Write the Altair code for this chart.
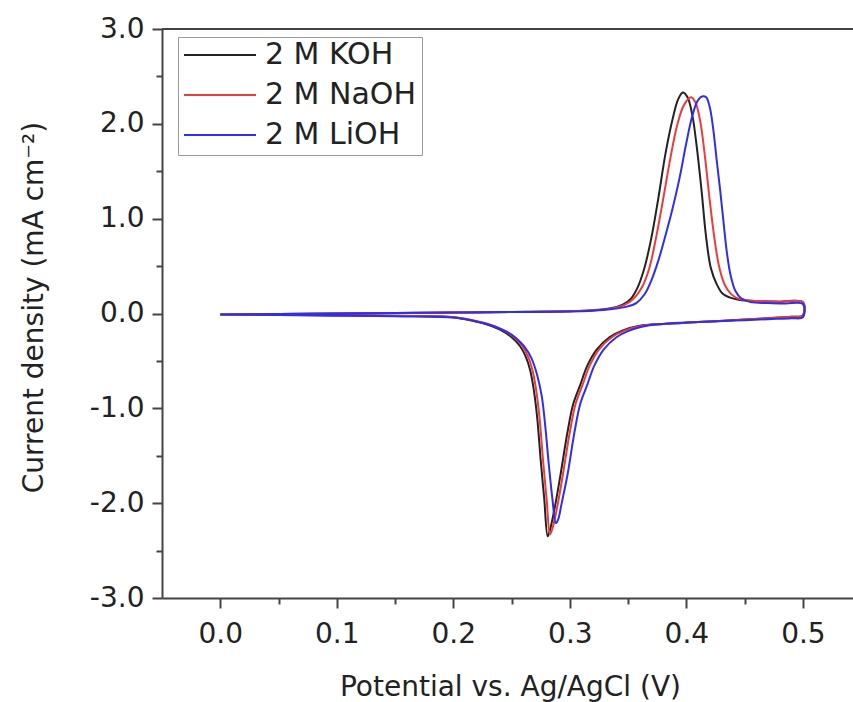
import altair as alt
import pandas as pd

# Cyclic voltammograms in three 2 M hydroxide electrolytes
SERIES = ["2 M KOH", "2 M NaOH", "2 M LiOH"]
COLORS = ["#222222", "#f03a3a", "#2e2ef0"]

# --- 2 M KOH ---
KOH_E_FWD = [0.000, 0.050, 0.100, 0.150, 0.200, 0.250, 0.300, 0.320, 0.335, 0.345,
             0.352, 0.358, 0.364, 0.370, 0.376, 0.382, 0.388, 0.393, 0.397, 0.401,
             0.405, 0.409, 0.413, 0.417, 0.421, 0.426, 0.431, 0.437, 0.445, 0.460,
             0.480, 0.500]
KOH_J_FWD = [-0.01, -0.005, 0.0, 0.005, 0.01, 0.015, 0.025, 0.035, 0.055, 0.09,
             0.15, 0.27, 0.48, 0.80, 1.22, 1.68, 2.04, 2.26, 2.33, 2.28,
             2.10, 1.75, 1.30, 0.80, 0.48, 0.31, 0.21, 0.17, 0.145, 0.13,
             0.125, 0.12]
KOH_E_REV = [0.500, 0.490, 0.470, 0.440, 0.410, 0.380, 0.360, 0.345, 0.334, 0.323,
             0.315, 0.309, 0.303, 0.298, 0.292, 0.287, 0.283, 0.281, 0.278, 0.275,
             0.272, 0.269, 0.266, 0.262, 0.257, 0.250, 0.240, 0.225, 0.200, 0.150,
             0.100, 0.050, 0.000]
KOH_J_REV = [-0.02, -0.035, -0.05, -0.07, -0.09, -0.11, -0.13, -0.18, -0.25, -0.38,
             -0.55, -0.75, -0.95, -1.25, -1.70, -2.05, -2.28, -2.35, -1.95, -1.55,
             -1.10, -0.80, -0.60, -0.45, -0.34, -0.25, -0.17, -0.10, -0.04, -0.025,
             -0.02, -0.015, -0.01]

# --- 2 M NaOH ---
NAOH_E_FWD = [0.000, 0.050, 0.100, 0.150, 0.200, 0.250, 0.300, 0.320, 0.335, 0.347,
              0.355, 0.362, 0.368, 0.374, 0.380, 0.386, 0.392, 0.398, 0.404, 0.408,
              0.412, 0.416, 0.420, 0.424, 0.428, 0.433, 0.438, 0.444, 0.452, 0.465,
              0.480, 0.500]
NAOH_J_FWD = [-0.01, -0.005, 0.0, 0.005, 0.01, 0.015, 0.025, 0.035, 0.05, 0.09,
              0.16, 0.28, 0.47, 0.80, 1.20, 1.62, 1.98, 2.20, 2.28, 2.22,
              2.02, 1.65, 1.20, 0.80, 0.50, 0.30, 0.21, 0.16, 0.14, 0.13,
              0.125, 0.12]
NAOH_E_REV = [0.500, 0.490, 0.470, 0.440, 0.410, 0.380, 0.362, 0.347, 0.336, 0.325,
              0.317, 0.311, 0.305, 0.300, 0.294, 0.289, 0.285, 0.283, 0.280, 0.277,
              0.274, 0.271, 0.268, 0.264, 0.259, 0.252, 0.242, 0.227, 0.202, 0.150,
              0.100, 0.050, 0.000]
NAOH_J_REV = [-0.02, -0.035, -0.05, -0.07, -0.09, -0.11, -0.13, -0.18, -0.25, -0.38,
              -0.55, -0.75, -0.95, -1.25, -1.70, -2.05, -2.27, -2.33, -1.95, -1.55,
              -1.10, -0.80, -0.60, -0.45, -0.34, -0.25, -0.17, -0.10, -0.04, -0.025,
              -0.02, -0.015, -0.01]

# --- 2 M LiOH ---
LIOH_E_FWD = [0.000, 0.050, 0.100, 0.150, 0.200, 0.250, 0.300, 0.320, 0.335, 0.348,
              0.357, 0.364, 0.370, 0.376, 0.382, 0.388, 0.394, 0.400, 0.405, 0.410,
              0.414, 0.417, 0.420, 0.423, 0.426, 0.429, 0.432, 0.435, 0.438, 0.442,
              0.447, 0.455, 0.470, 0.485, 0.500]
LIOH_J_FWD = [-0.01, -0.005, 0.0, 0.005, 0.01, 0.015, 0.02, 0.03, 0.045, 0.07,
              0.11, 0.20, 0.35, 0.56, 0.82, 1.10, 1.42, 1.80, 2.08, 2.25,
              2.29, 2.28, 2.18, 1.95, 1.62, 1.30, 0.95, 0.62, 0.40, 0.24,
              0.16, 0.12, 0.11, 0.105, 0.10]
LIOH_E_REV = [0.500, 0.490, 0.470, 0.440, 0.410, 0.380, 0.366, 0.351, 0.340, 0.329,
              0.321, 0.315, 0.309, 0.304, 0.298, 0.293, 0.290, 0.288, 0.285, 0.282,
              0.279, 0.276, 0.272, 0.267, 0.261, 0.254, 0.244, 0.229, 0.205, 0.150,
              0.100, 0.050, 0.000]
LIOH_J_REV = [-0.04, -0.05, -0.06, -0.075, -0.09, -0.11, -0.13, -0.18, -0.25, -0.38,
              -0.55, -0.75, -0.95, -1.25, -1.70, -2.00, -2.17, -2.21, -1.95, -1.60,
              -1.20, -0.88, -0.65, -0.47, -0.35, -0.26, -0.18, -0.11, -0.05, -0.03,
              -0.02, -0.015, -0.01]

X_TICKS = [0.0, 0.05, 0.1, 0.15, 0.2, 0.25, 0.3, 0.35, 0.4, 0.45, 0.5]
Y_TICKS = [-3.0, -2.5, -2.0, -1.5, -1.0, -0.5, 0.0, 0.5, 1.0, 1.5, 2.0, 2.5, 3.0]
X_DOMAIN = [-0.05, 0.543]
Y_DOMAIN = [-3.0, 3.0]

sweeps = [
    ("2 M KOH", KOH_E_FWD + KOH_E_REV, KOH_J_FWD + KOH_J_REV),
    ("2 M NaOH", NAOH_E_FWD + NAOH_E_REV, NAOH_J_FWD + NAOH_J_REV),
    ("2 M LiOH", LIOH_E_FWD + LIOH_E_REV, LIOH_J_FWD + LIOH_J_REV),
]
rows = []
for name, e_vals, j_vals in sweeps:
    for k, (e, j) in enumerate(zip(e_vals, j_vals)):
        rows.append({"series": name, "E": e, "j": j, "k": k})
df = pd.DataFrame(rows)

W, H = 691, 569
FONT = "DejaVu Sans"
AXIS_COLOR = "#444444"
TEXT_COLOR = "#222222"

major_x = "abs(datum.value * 10 - round(datum.value * 10)) < 0.001"
major_y = "abs(datum.value - round(datum.value)) < 0.001"
signed = "(datum.value < 0 ? '-' : '') + format(abs(datum.value), '.1f')"

x_axis = alt.Axis(
    values=X_TICKS,
    labelExpr=f"{major_x} ? {signed} : ''",
    tickSize={"condition": {"test": major_x, "value": 10}, "value": 6},
    labelPadding=12,
    labelOverlap=False,
    title="Potential vs. Ag/AgCl (V)",
    titleX=348,
    titleY=97,
    titleBaseline="alphabetic",
    titleAlign="center",
)
y_axis = alt.Axis(
    values=Y_TICKS,
    labelExpr=f"{major_y} ? {signed} : ''",
    tickSize={"condition": {"test": major_y, "value": 10}, "value": 6},
    labelPadding=8,
    labelOverlap=False,
    title="Current density (mA cm⁻²)",
    titleAngle=270,
    titleX=-120,
    titleY=278,
    titleBaseline="alphabetic",
    titleAlign="center",
)

curves = alt.Chart(df).mark_line(
    strokeWidth=2, clip=True, interpolate="catmull-rom"
).encode(
    x=alt.X("E:Q", scale=alt.Scale(domain=X_DOMAIN, nice=False, zero=False), axis=x_axis),
    y=alt.Y("j:Q", scale=alt.Scale(domain=Y_DOMAIN, nice=False, zero=False), axis=y_axis),
    color=alt.Color(
        "series:N",
        sort=SERIES,
        scale=alt.Scale(domain=SERIES, range=COLORS),
        legend=alt.Legend(
            title=None,
            orient="none",
            legendX=16,
            legendY=8,
            symbolType="stroke",
            symbolSize=5184,
            symbolStrokeWidth=2,
            labelFont=FONT,
            labelFontSize=30,
            labelColor=TEXT_COLOR,
            labelOffset=8,
            clipHeight=26,
            rowPadding=10,
            padding=5,
            strokeColor="#9a9a9a",
            fillColor="#ffffff",
        ),
    ),
    order=alt.Order("k:Q"),
)

# upper frame line along the top of the plot area
frame_top = alt.Chart(pd.DataFrame({"j": [Y_DOMAIN[1]]})).mark_rule(
    color=AXIS_COLOR, strokeWidth=2
).encode(y=alt.Y("j:Q"), x=alt.value(0), x2=alt.value(W))

chart = (
    alt.layer(frame_top, curves)
    .properties(
        width=W,
        height=H,
        autosize=alt.AutoSizeParams(type="none"),
        padding={"left": 162, "top": 29, "right": 0, "bottom": 104},
        background="#ffffff",
    )
    .configure_view(stroke=None)
    .configure_axis(
        grid=False,
        domainColor=AXIS_COLOR,
        domainWidth=2,
        tickColor=AXIS_COLOR,
        tickWidth=2,
        labelFont=FONT,
        labelFontSize=28,
        labelColor=TEXT_COLOR,
        titleFont=FONT,
        titleFontSize=28,
        titleFontWeight="normal",
        titleColor=TEXT_COLOR,
    )
)

chart.save("out.html", embed_options={"renderer": "svg", "actions": False})
